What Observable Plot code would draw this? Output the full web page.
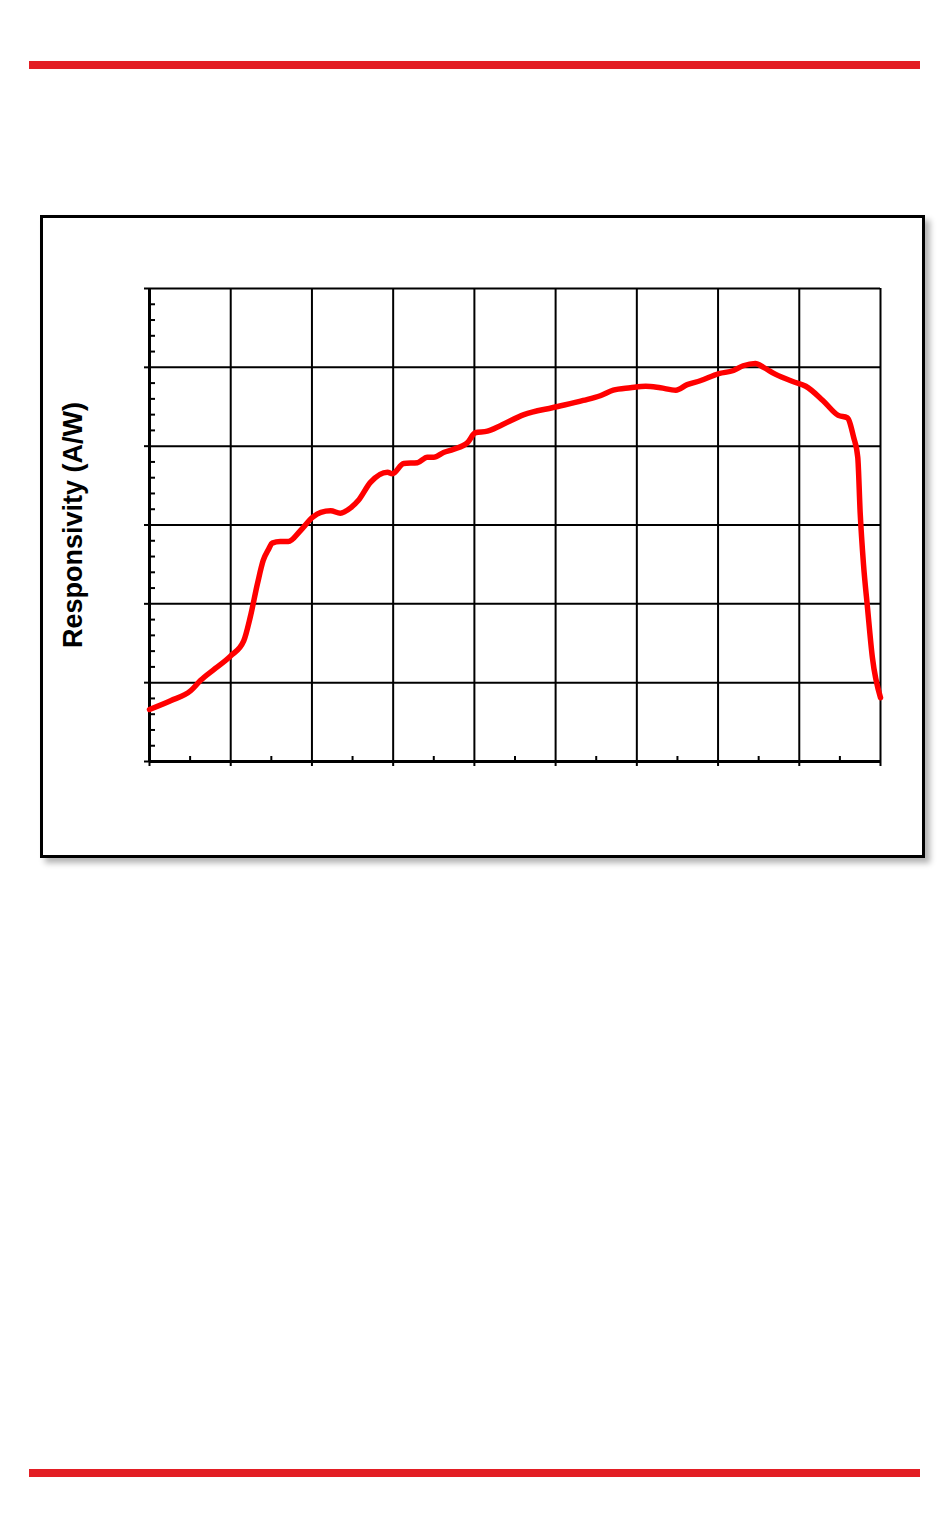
<!DOCTYPE html>
<html>
<head>
<meta charset="utf-8">
<script src="https://cdn.jsdelivr.net/npm/d3@7"></script>
<script src="https://cdn.jsdelivr.net/npm/@observablehq/plot@0.6"></script>
<style>
  html, body { margin: 0; padding: 0; background: #fff; }
  body { width: 950px; height: 1538px; position: relative; overflow: hidden; font-family: "Liberation Sans", Arial, sans-serif; }
  .bar { position: absolute; left: 29px; width: 891px; height: 8px; background: #e31e24; }
  #frame { position: absolute; left: 40px; top: 215px; width: 879px; height: 637px; border: 3px solid #000; box-shadow: 5px 5px 6px rgba(0,0,0,0.3); background: #fff; }
  #chart { position: absolute; left: 0; top: 0; }
</style>
</head>
<body>
<div class="bar" style="top:61px"></div>
<div id="frame"></div>
<div id="chart"></div>
<div class="bar" style="top:1469px"></div>
<script>
// Wavelength (nm) and responsivity (A/W)
const wavelength = [200,226,251,263,281,300,316,324,333,340,347,351,361,371,386,401,411,423,435,448,457,472,493,499,513,530,542,550,562,574,592,601,616,632,661,697,734,755,771,792,811,829,848,862,878,901,919,931,946,956,971,992,1008,1029,1048,1059,1067,1072,1075,1079,1084,1090,1100];
const responsivity = [0.066,0.077,0.090,0.103,0.118,0.134,0.153,0.183,0.226,0.255,0.270,0.277,0.279,0.279,0.293,0.310,0.316,0.318,0.315,0.322,0.331,0.354,0.367,0.365,0.378,0.379,0.386,0.386,0.392,0.396,0.405,0.417,0.419,0.426,0.440,0.449,0.458,0.464,0.471,0.474,0.476,0.474,0.471,0.478,0.483,0.492,0.496,0.502,0.505,0.500,0.491,0.482,0.476,0.458,0.439,0.436,0.411,0.386,0.315,0.251,0.195,0.132,0.081];
const xMajorTicks = [200,300,400,500,600,700,800,900,1000,1100];
const xMinorTicks = [250,350,450,550,650,750,850,950,1050];
const yMajorTicks = [0,0.1,0.2,0.3,0.4,0.5,0.6];
const yMinorTicks = d3.range(0, 0.6001, 0.02).map(v => +v.toFixed(2)).filter(v => !yMajorTicks.includes(v));
const yLabel = "Responsivity (A/W)";

const data = wavelength.map((w, i) => ({w, r: responsivity[i]}));
const blank = () => "";

const plot = Plot.plot({
  width: 950,
  height: 900,
  marginLeft: 149,
  marginRight: 70,
  marginTop: 288,
  marginBottom: 139,
  style: {background: "transparent", overflow: "visible"},
  x: {domain: [200, 1100], label: null},
  y: {domain: [0, 0.6], label: null},
  marks: [
    Plot.gridX({ticks: xMajorTicks, stroke: "#000", strokeOpacity: 1, strokeWidth: 2}),
    Plot.gridY({ticks: yMajorTicks, stroke: "#000", strokeOpacity: 1, strokeWidth: 2}),
    Plot.axisY({ticks: yMajorTicks, tickSize: 5, tickFormat: blank, label: null, strokeWidth: 2}),
    Plot.axisY({ticks: yMinorTicks, tickSize: -6, tickFormat: blank, label: null, strokeWidth: 2}),
    Plot.axisX({ticks: xMajorTicks, tickSize: 5, tickFormat: blank, label: null, strokeWidth: 2}),
    Plot.axisX({ticks: xMinorTicks, tickSize: -5, tickFormat: blank, label: null, strokeWidth: 2}),
    Plot.ruleX([200], {stroke: "#000", strokeWidth: 3}),
    Plot.ruleY([0], {stroke: "#000", strokeWidth: 3}),
    Plot.line(data, {x: "w", y: "r", stroke: "#ff0000", strokeWidth: 5.5, curve: "monotone-x"}),
    Plot.text([yLabel], {frameAnchor: "left", textAnchor: "middle", rotate: -90, dx: -76, fontSize: 27, fontWeight: "bold", fill: "#000", fontFamily: "Liberation Sans, Arial, sans-serif"})
  ]
});
document.getElementById("chart").appendChild(plot);
</script>
</body>
</html>
